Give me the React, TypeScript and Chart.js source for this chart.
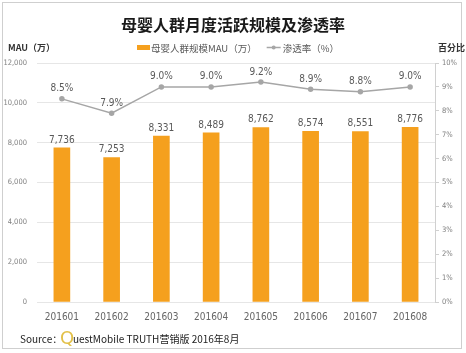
import React, { useEffect, useRef } from "react";
import { Chart, registerables } from "chart.js";
Chart.register(...registerables);

const categories = ["201601", "201602", "201603", "201604", "201605", "201606", "201607", "201608"];
const mauValues = [7736, 7253, 8331, 8489, 8762, 8574, 8551, 8776];
const rateValues = [8.5, 7.9, 9.0, 9.0, 9.2, 8.9, 8.8, 9.0];
const leftTicks = [0, 2000, 4000, 6000, 8000, 10000, 12000];

const TITLE = "母婴人群月度活跃规模及渗透率";
const BAR_LABEL = "母婴人群规模MAU（万）";
const LINE_LABEL = "渗透率（%）";
const FONT = "'Noto Sans CJK SC', 'Noto Sans', sans-serif";
const ORANGE = "#F5A01E";
const GRAY_LINE = "#A6A6A6";

const decor = {
  id: "decor",
  afterDatasetsDraw(chart: any) {
    const ctx = chart.ctx;
    ctx.save();
    // frame
    ctx.strokeStyle = "#cfcfcf";
    ctx.lineWidth = 1;
    ctx.strokeRect(2.5, 2.5, 459, 346);
    // title
    ctx.fillStyle = "#1a1a1a";
    ctx.font = `bold 16px ${FONT}`;
    ctx.textAlign = "center";
    ctx.textBaseline = "middle";
    ctx.fillText(TITLE, 233, 25);
    // axis titles
    ctx.font = `bold 9px ${FONT}`;
    ctx.textAlign = "left";
    ctx.fillStyle = "#333";
    ctx.fillText("MAU（万）", 8, 48);
    ctx.fillText("百分比", 438, 48);
    // legend
    ctx.font = `9.5px ${FONT}`;
    ctx.fillStyle = ORANGE;
    ctx.fillRect(137, 45, 13, 5);
    ctx.fillStyle = "#595959";
    ctx.fillText(BAR_LABEL, 151, 48);
    const lx = 151 + ctx.measureText(BAR_LABEL).width + 10;
    ctx.strokeStyle = GRAY_LINE;
    ctx.lineWidth = 1.5;
    ctx.beginPath();
    ctx.moveTo(lx, 47.5);
    ctx.lineTo(lx + 14, 47.5);
    ctx.stroke();
    ctx.fillStyle = GRAY_LINE;
    ctx.beginPath();
    ctx.arc(lx + 7, 47.5, 2, 0, Math.PI * 2);
    ctx.fill();
    ctx.fillStyle = "#595959";
    ctx.fillText(LINE_LABEL, lx + 16, 48);
    // data labels
    ctx.font = `10px 'DejaVu Sans Condensed', ${FONT}`;
    ctx.fillStyle = "#595959";
    ctx.textAlign = "center";
    ctx.textBaseline = "bottom";
    const barMeta = chart.getDatasetMeta(0);
    barMeta.data.forEach((el: any, i: number) => {
      ctx.fillText(mauValues[i].toLocaleString("en-US"), el.x, el.y - 3);
    });
    const lineMeta = chart.getDatasetMeta(1);
    lineMeta.data.forEach((el: any, i: number) => {
      ctx.fillText(rateValues[i].toFixed(1) + "%", el.x, el.y - 5);
    });
    // source
    ctx.textAlign = "left";
    ctx.textBaseline = "alphabetic";
    ctx.fillStyle = "#222";
    ctx.font = `10px ${FONT}`;
    ctx.fillText("Source：", 20, 343);
    ctx.fillStyle = "#E2C048";
    ctx.font = `18px 'DejaVu Sans', sans-serif`;
    ctx.fillText("Q", 60, 344);
    ctx.fillStyle = "#222";
    ctx.font = `10px ${FONT}`;
    ctx.fillText("uestMobile TRUTH营销版 2016年8月", 73, 343);
    ctx.restore();
  },
};

export default function App() {
  const ref = useRef<HTMLCanvasElement>(null);
  useEffect(() => {
    document.body.style.margin = "0";
    const chart = new Chart(ref.current!, {
      type: "bar",
      data: {
        labels: categories,
        datasets: [
          {
            type: "bar",
            label: BAR_LABEL,
            data: mauValues,
            backgroundColor: ORANGE,
            barThickness: 16,
            yAxisID: "y",
            order: 2,
          },
          {
            type: "line",
            label: LINE_LABEL,
            data: rateValues,
            borderColor: GRAY_LINE,
            backgroundColor: GRAY_LINE,
            borderWidth: 1.5,
            pointRadius: 2,
            yAxisID: "y1",
            order: 1,
          },
        ] as any,
      },
      options: {
        responsive: false,
        animation: false,
        layout: { padding: { left: 0, right: 0, top: 63, bottom: 33 } },
        plugins: { legend: { display: false }, title: { display: false }, tooltip: { enabled: false } },
        scales: {
          x: {
            grid: { display: false },
            border: { display: false },
            ticks: { color: "#666", font: { size: 10, family: "'DejaVu Sans Condensed', sans-serif" }, padding: 1 },
            afterFit(s: any) { s.height = 18; },
          },
          y: {
            position: "left",
            min: 0,
            max: 12000,
            afterBuildTicks(s: any) { s.ticks = leftTicks.map((v) => ({ value: v })); },
            grid: { color: "#e6e6e6", drawTicks: false },
            border: { display: false },
            ticks: {
              color: "#7f7f7f",
              font: { size: 7.5, family: "'DejaVu Sans Condensed', sans-serif" },
              padding: 10,
              callback: (v: any) => Number(v).toLocaleString("en-US"),
            },
            afterFit(s: any) { s.width = 37; },
          },
          y1: {
            position: "right",
            min: 0,
            max: 10,
            ticks: {
              stepSize: 1,
              color: "#7f7f7f",
              font: { size: 7.5, family: "'DejaVu Sans Condensed', sans-serif" },
              padding: 3,
              callback: (v: any) => v + "%",
            },
            grid: { drawOnChartArea: false, color: "#d0d0d0", tickLength: 4 },
            border: { display: true, color: "#d0d0d0" },
            afterFit(s: any) { s.width = 31; },
          },
        },
      } as any,
      plugins: [decor],
    });
    return () => chart.destroy();
  }, []);
  return <canvas ref={ref} width={466} height={353} style={{ display: "block" }} />;
}
